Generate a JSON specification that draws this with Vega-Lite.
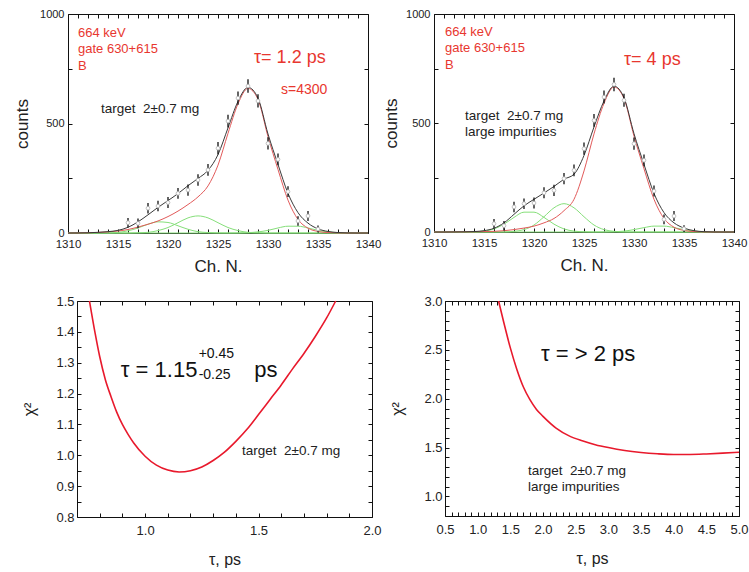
{
  "$schema": "https://vega.github.io/schema/vega-lite/v6.json",
  "background": "white",
  "padding": {"left": 10, "top": 7, "right": 0, "bottom": 0},
  "datasets": {
    "blank": [{}],
    "fit1": [
      {"ch": 1310, "g1": 0, "g2": 0, "g3": 0, "red": 0, "tot": 0},
      {"ch": 1311, "g1": 0, "g2": 0, "g3": 0, "red": 0.2, "tot": 0.3},
      {"ch": 1312, "g1": 0, "g2": 0, "g3": 0, "red": 1, "tot": 1},
      {"ch": 1313, "g1": 0.2, "g2": 0, "g3": 0, "red": 2.5, "tot": 3},
      {"ch": 1314, "g1": 0.7, "g2": 0, "g3": 0, "red": 5, "tot": 6},
      {"ch": 1315, "g1": 3, "g2": 0, "g3": 0, "red": 9, "tot": 12},
      {"ch": 1316, "g1": 10, "g2": 0, "g3": 0, "red": 16, "tot": 26},
      {"ch": 1317, "g1": 23, "g2": 1, "g3": 0, "red": 27, "tot": 51},
      {"ch": 1318, "g1": 40, "g2": 3, "g3": 0, "red": 40, "tot": 83},
      {"ch": 1319, "g1": 51, "g2": 11, "g3": 0, "red": 55, "tot": 117},
      {"ch": 1320, "g1": 48, "g2": 25, "g3": 0, "red": 75, "tot": 148},
      {"ch": 1321, "g1": 33, "g2": 47, "g3": 0, "red": 100, "tot": 180},
      {"ch": 1322, "g1": 17, "g2": 69, "g3": 0, "red": 130, "tot": 216},
      {"ch": 1323, "g1": 6, "g2": 78, "g3": 0, "red": 165, "tot": 249},
      {"ch": 1324, "g1": 2, "g2": 69, "g3": 0, "red": 215, "tot": 286},
      {"ch": 1325, "g1": 0.5, "g2": 47, "g3": 0, "red": 310, "tot": 358},
      {"ch": 1326, "g1": 0, "g2": 25, "g3": 0, "red": 455, "tot": 480},
      {"ch": 1327, "g1": 0, "g2": 11, "g3": 0.3, "red": 590, "tot": 601},
      {"ch": 1328, "g1": 0, "g2": 3, "g3": 1.5, "red": 660, "tot": 665},
      {"ch": 1329, "g1": 0, "g2": 1, "g3": 5, "red": 610, "tot": 616},
      {"ch": 1330, "g1": 0, "g2": 0, "g3": 12, "red": 440, "tot": 452},
      {"ch": 1331, "g1": 0, "g2": 0, "g3": 23, "red": 290, "tot": 313},
      {"ch": 1332, "g1": 0, "g2": 0, "g3": 31, "red": 150, "tot": 181},
      {"ch": 1333, "g1": 0, "g2": 0, "g3": 31, "red": 62, "tot": 93},
      {"ch": 1334, "g1": 0, "g2": 0, "g3": 23, "red": 22, "tot": 45},
      {"ch": 1335, "g1": 0, "g2": 0, "g3": 12, "red": 7, "tot": 19},
      {"ch": 1336, "g1": 0, "g2": 0, "g3": 5, "red": 2, "tot": 7},
      {"ch": 1337, "g1": 0, "g2": 0, "g3": 1.5, "red": 0.5, "tot": 2},
      {"ch": 1338, "g1": 0, "g2": 0, "g3": 0.3, "red": 0, "tot": 0.3},
      {"ch": 1339, "g1": 0, "g2": 0, "g3": 0, "red": 0, "tot": 0},
      {"ch": 1340, "g1": 0, "g2": 0, "g3": 0, "red": 0, "tot": 0}
    ],
    "fit2": [
      {"ch": 1310, "g1": 0, "g2": 0, "g3": 0, "red": 0, "tot": 0},
      {"ch": 1311, "g1": 0, "g2": 0, "g3": 0, "red": 0, "tot": 0},
      {"ch": 1312, "g1": 0, "g2": 0, "g3": 0, "red": 0.3, "tot": 0.3},
      {"ch": 1313, "g1": 0.2, "g2": 0, "g3": 0, "red": 0.6, "tot": 0.8},
      {"ch": 1314, "g1": 1, "g2": 0, "g3": 0, "red": 1, "tot": 2},
      {"ch": 1315, "g1": 4, "g2": 0, "g3": 0, "red": 2, "tot": 6},
      {"ch": 1316, "g1": 14, "g2": 0, "g3": 0, "red": 3, "tot": 17},
      {"ch": 1317, "g1": 36, "g2": 0.4, "g3": 0, "red": 6, "tot": 42},
      {"ch": 1318, "g1": 67, "g2": 3, "g3": 0, "red": 11, "tot": 81},
      {"ch": 1319, "g1": 91, "g2": 11, "g3": 0, "red": 18, "tot": 120},
      {"ch": 1320, "g1": 91, "g2": 32, "g3": 0, "red": 27, "tot": 150},
      {"ch": 1321, "g1": 67, "g2": 70, "g3": 0, "red": 42, "tot": 179},
      {"ch": 1322, "g1": 36, "g2": 111, "g3": 0, "red": 62, "tot": 209},
      {"ch": 1323, "g1": 14, "g2": 130, "g3": 0, "red": 98, "tot": 242},
      {"ch": 1324, "g1": 4, "g2": 111, "g3": 0, "red": 150, "tot": 265},
      {"ch": 1325, "g1": 1, "g2": 70, "g3": 0, "red": 280, "tot": 351},
      {"ch": 1326, "g1": 0, "g2": 32, "g3": 0, "red": 450, "tot": 482},
      {"ch": 1327, "g1": 0, "g2": 11, "g3": 0.3, "red": 590, "tot": 601},
      {"ch": 1328, "g1": 0, "g2": 3, "g3": 1.4, "red": 665, "tot": 669},
      {"ch": 1329, "g1": 0, "g2": 0.4, "g3": 4, "red": 612, "tot": 616},
      {"ch": 1330, "g1": 0, "g2": 0, "g3": 11, "red": 440, "tot": 451},
      {"ch": 1331, "g1": 0, "g2": 0, "g3": 20, "red": 290, "tot": 310},
      {"ch": 1332, "g1": 0, "g2": 0, "g3": 27, "red": 150, "tot": 177},
      {"ch": 1333, "g1": 0, "g2": 0, "g3": 27, "red": 62, "tot": 89},
      {"ch": 1334, "g1": 0, "g2": 0, "g3": 20, "red": 22, "tot": 42},
      {"ch": 1335, "g1": 0, "g2": 0, "g3": 11, "red": 7, "tot": 18},
      {"ch": 1336, "g1": 0, "g2": 0, "g3": 4, "red": 2, "tot": 6},
      {"ch": 1337, "g1": 0, "g2": 0, "g3": 1, "red": 0.5, "tot": 1.5},
      {"ch": 1338, "g1": 0, "g2": 0, "g3": 0.2, "red": 0, "tot": 0.2},
      {"ch": 1339, "g1": 0, "g2": 0, "g3": 0, "red": 0, "tot": 0},
      {"ch": 1340, "g1": 0, "g2": 0, "g3": 0, "red": 0, "tot": 0}
    ],
    "pts1": [
      {"ch": 1316, "cnt": 47, "lo": 25, "hi": 69},
      {"ch": 1317, "cnt": 44, "lo": 22, "hi": 66},
      {"ch": 1318, "cnt": 113, "lo": 89, "hi": 137},
      {"ch": 1319, "cnt": 123, "lo": 99, "hi": 147},
      {"ch": 1320, "cnt": 139, "lo": 114, "hi": 164},
      {"ch": 1321, "cnt": 181, "lo": 156, "hi": 206},
      {"ch": 1322, "cnt": 196, "lo": 170, "hi": 222},
      {"ch": 1323, "cnt": 242, "lo": 216, "hi": 268},
      {"ch": 1324, "cnt": 288, "lo": 261, "hi": 315},
      {"ch": 1325, "cnt": 387, "lo": 359, "hi": 415},
      {"ch": 1326, "cnt": 511, "lo": 482, "hi": 540},
      {"ch": 1327, "cnt": 616, "lo": 586, "hi": 646},
      {"ch": 1328, "cnt": 671, "lo": 640, "hi": 702},
      {"ch": 1329, "cnt": 603, "lo": 573, "hi": 633},
      {"ch": 1330, "cnt": 409, "lo": 381, "hi": 437},
      {"ch": 1331, "cnt": 336, "lo": 309, "hi": 363},
      {"ch": 1332, "cnt": 189, "lo": 164, "hi": 214},
      {"ch": 1333, "cnt": 55, "lo": 33, "hi": 77},
      {"ch": 1334, "cnt": 78, "lo": 55, "hi": 101},
      {"ch": 1335, "cnt": 18, "lo": 2, "hi": 34}
    ],
    "pts2": [
      {"ch": 1316, "cnt": 38, "lo": 16, "hi": 60},
      {"ch": 1317, "cnt": 29, "lo": 7, "hi": 51},
      {"ch": 1318, "cnt": 115, "lo": 91, "hi": 139},
      {"ch": 1319, "cnt": 130, "lo": 106, "hi": 154},
      {"ch": 1320, "cnt": 133, "lo": 108, "hi": 158},
      {"ch": 1321, "cnt": 180, "lo": 155, "hi": 205},
      {"ch": 1322, "cnt": 191, "lo": 165, "hi": 217},
      {"ch": 1323, "cnt": 245, "lo": 219, "hi": 271},
      {"ch": 1324, "cnt": 283, "lo": 256, "hi": 310},
      {"ch": 1325, "cnt": 382, "lo": 354, "hi": 410},
      {"ch": 1326, "cnt": 512, "lo": 483, "hi": 541},
      {"ch": 1327, "cnt": 619, "lo": 589, "hi": 649},
      {"ch": 1328, "cnt": 677, "lo": 646, "hi": 708},
      {"ch": 1329, "cnt": 604, "lo": 574, "hi": 634},
      {"ch": 1330, "cnt": 405, "lo": 377, "hi": 433},
      {"ch": 1331, "cnt": 329, "lo": 302, "hi": 356},
      {"ch": 1332, "cnt": 188, "lo": 163, "hi": 213},
      {"ch": 1333, "cnt": 58, "lo": 36, "hi": 80},
      {"ch": 1334, "cnt": 73, "lo": 50, "hi": 96},
      {"ch": 1335, "cnt": 15, "lo": 0, "hi": 31}
    ],
    "chi1": [
      {"tau": 0.755, "chi": 1.5},
      {"tau": 0.78, "chi": 1.395},
      {"tau": 0.8, "chi": 1.32},
      {"tau": 0.825, "chi": 1.245},
      {"tau": 0.85, "chi": 1.19},
      {"tau": 0.875, "chi": 1.14},
      {"tau": 0.9, "chi": 1.1},
      {"tau": 0.925, "chi": 1.068},
      {"tau": 0.95, "chi": 1.04},
      {"tau": 1.0, "chi": 0.997},
      {"tau": 1.05, "chi": 0.968},
      {"tau": 1.1, "chi": 0.952},
      {"tau": 1.15, "chi": 0.946},
      {"tau": 1.2, "chi": 0.95},
      {"tau": 1.25, "chi": 0.962},
      {"tau": 1.3, "chi": 0.983},
      {"tau": 1.35, "chi": 1.01},
      {"tau": 1.4, "chi": 1.045},
      {"tau": 1.45, "chi": 1.085},
      {"tau": 1.5, "chi": 1.132},
      {"tau": 1.55, "chi": 1.18},
      {"tau": 1.6, "chi": 1.228},
      {"tau": 1.65, "chi": 1.28},
      {"tau": 1.7, "chi": 1.33},
      {"tau": 1.75, "chi": 1.385},
      {"tau": 1.8, "chi": 1.445},
      {"tau": 1.84, "chi": 1.5}
    ],
    "chi2": [
      {"tau": 1.32, "chi": 3.0},
      {"tau": 1.4, "chi": 2.78},
      {"tau": 1.5, "chi": 2.52},
      {"tau": 1.6, "chi": 2.3},
      {"tau": 1.7, "chi": 2.12},
      {"tau": 1.8, "chi": 1.99},
      {"tau": 1.9, "chi": 1.89},
      {"tau": 2.0, "chi": 1.82},
      {"tau": 2.2, "chi": 1.7},
      {"tau": 2.4, "chi": 1.62},
      {"tau": 2.6, "chi": 1.57},
      {"tau": 2.8, "chi": 1.53},
      {"tau": 3.0, "chi": 1.5},
      {"tau": 3.25, "chi": 1.47},
      {"tau": 3.5, "chi": 1.45},
      {"tau": 3.75, "chi": 1.437},
      {"tau": 4.0, "chi": 1.43},
      {"tau": 4.25, "chi": 1.43},
      {"tau": 4.5, "chi": 1.435},
      {"tau": 4.75, "chi": 1.443},
      {"tau": 5.0, "chi": 1.452}
    ]
  },
  "spacing": 19,
  "vconcat": [
    {
      "spacing": 0,
      "hconcat": [
        {
          "width": 3, "height": 219,
          "view": {"stroke": null},
          "data": {"name": "blank"},
          "mark": {"type": "text"},
          "encoding": {"text": {"value": ""}}
        },
        {
          "width": 300, "height": 219,
          "data": {"name": "blank"},
          "resolve": {"axis": {"x": "independent", "y": "independent"}},
          "layer": [
            {
              "data": {"name": "fit1"},
              "transform": [{"fold": ["g1", "g2", "g3", "red", "tot"], "as": ["comp", "val"]}],
              "mark": {"type": "line", "interpolate": "monotone", "strokeWidth": 1},
              "encoding": {
                "x": {"field": "ch", "type": "quantitative", "scale": {"domain": [1310, 1340], "nice": false, "zero": false},
                  "axis": {"orient": "bottom", "values": [1310, 1315, 1320, 1325, 1330, 1335, 1340], "format": "d", "ticks": false, "labelFontSize": 11.5, "labelPadding": 5, "title": "Ch. N.", "titleFontSize": 17, "titlePadding": 9}},
                "y": {"field": "val", "type": "quantitative", "scale": {"domain": [0, 1000], "nice": false, "zero": false},
                  "axis": {"orient": "left", "values": [0, 500, 1000], "format": "d", "ticks": false, "labelFontSize": 11, "labelPadding": 4, "title": "counts", "titleFontSize": 17, "titlePadding": 8}},
                "color": {"field": "comp", "type": "nominal", "scale": {"domain": ["g1", "g2", "g3", "red", "tot"], "range": ["#86df7a", "#86df7a", "#86df7a", "#e25a5a", "#3a3a3a"]}, "legend": null}
              }
            },
            {
              "data": {"name": "pts1"},
              "mark": {"type": "rule", "color": "#111", "strokeWidth": 1.3},
              "encoding": {
                "x": {"field": "ch", "type": "quantitative", "axis": {"orient": "bottom", "values": [1310,1311,1312,1313,1314,1315,1316,1317,1318,1319,1320,1321,1322,1323,1324,1325,1326,1327,1328,1329,1330,1331,1332,1333,1334,1335,1336,1337,1338,1339,1340], "labels": false, "tickSize": -4, "title": null}},
                "y": {"field": "lo", "type": "quantitative", "axis": {"orient": "left", "values": [0, 250, 500, 750, 1000], "labels": false, "tickSize": -4, "title": null}},
                "y2": {"field": "hi"}
              }
            },
            {
              "data": {"name": "pts1"},
              "mark": {"type": "point", "shape": "circle", "filled": true, "fill": "white", "stroke": "#b0b0b0", "strokeWidth": 0.8, "size": 14, "opacity": 1},
              "encoding": {
                "x": {"field": "ch", "type": "quantitative", "axis": {"orient": "top", "values": [1310,1311,1312,1313,1314,1315,1316,1317,1318,1319,1320,1321,1322,1323,1324,1325,1326,1327,1328,1329,1330,1331,1332,1333,1334,1335,1336,1337,1338,1339,1340], "labels": false, "tickSize": -4, "title": null}},
                "y": {"field": "cnt", "type": "quantitative", "axis": {"orient": "right", "values": [0, 250, 500, 750, 1000], "labels": false, "tickSize": -4, "title": null}}
              }
            },
            {
              "mark": {"type": "text", "align": "left", "baseline": "top", "fontSize": 13, "lineHeight": 16.5, "color": "#e8372f"},
              "encoding": {"x": {"datum": 1311, "type": "quantitative", "axis": null}, "y": {"datum": 941, "type": "quantitative", "axis": null}, "text": {"value": ["664 keV", "gate 630+615", "B"]}}
            },
            {
              "mark": {"type": "text", "align": "left", "baseline": "top", "fontSize": 18, "color": "#e8372f"},
              "encoding": {"x": {"datum": 1328.6, "type": "quantitative", "axis": null}, "y": {"datum": 840, "type": "quantitative", "axis": null}, "text": {"value": "τ= 1.2 ps"}}
            },
            {
              "mark": {"type": "text", "align": "left", "baseline": "top", "fontSize": 14, "color": "#e8372f"},
              "encoding": {"x": {"datum": 1331.3, "type": "quantitative", "axis": null}, "y": {"datum": 685, "type": "quantitative", "axis": null}, "text": {"value": "s=4300"}}
            },
            {
              "mark": {"type": "text", "align": "left", "baseline": "top", "fontSize": 13.5, "color": "#222"},
              "encoding": {"x": {"datum": 1313.3, "type": "quantitative", "axis": null}, "y": {"datum": 598, "type": "quantitative", "axis": null}, "text": {"value": "target\u00a0 2±0.7 mg"}}
            }
          ]
        },
        {
          "width": 300, "height": 218,
          "data": {"name": "blank"},
          "resolve": {"axis": {"x": "independent", "y": "independent"}},
          "layer": [
            {
              "data": {"name": "fit2"},
              "transform": [{"fold": ["g1", "g2", "g3", "red", "tot"], "as": ["comp", "val"]}],
              "mark": {"type": "line", "interpolate": "monotone", "strokeWidth": 1},
              "encoding": {
                "x": {"field": "ch", "type": "quantitative", "scale": {"domain": [1310, 1340], "nice": false, "zero": false},
                  "axis": {"orient": "bottom", "values": [1310, 1315, 1320, 1325, 1330, 1335, 1340], "format": "d", "ticks": false, "labelFontSize": 11.5, "labelPadding": 5, "title": "Ch. N.", "titleFontSize": 17, "titlePadding": 9}},
                "y": {"field": "val", "type": "quantitative", "scale": {"domain": [0, 1000], "nice": false, "zero": false},
                  "axis": {"orient": "left", "values": [0, 500, 1000], "format": "d", "ticks": false, "labelFontSize": 11, "labelPadding": 4, "title": "counts", "titleFontSize": 17, "titlePadding": 5}},
                "color": {"field": "comp", "type": "nominal", "scale": {"domain": ["g1", "g2", "g3", "red", "tot"], "range": ["#86df7a", "#86df7a", "#86df7a", "#e25a5a", "#3a3a3a"]}, "legend": null}
              }
            },
            {
              "data": {"name": "pts2"},
              "mark": {"type": "rule", "color": "#111", "strokeWidth": 1.3},
              "encoding": {
                "x": {"field": "ch", "type": "quantitative", "axis": {"orient": "bottom", "values": [1310,1311,1312,1313,1314,1315,1316,1317,1318,1319,1320,1321,1322,1323,1324,1325,1326,1327,1328,1329,1330,1331,1332,1333,1334,1335,1336,1337,1338,1339,1340], "labels": false, "tickSize": -4, "title": null}},
                "y": {"field": "lo", "type": "quantitative", "axis": {"orient": "left", "values": [0, 250, 500, 750, 1000], "labels": false, "tickSize": -4, "title": null}},
                "y2": {"field": "hi"}
              }
            },
            {
              "data": {"name": "pts2"},
              "mark": {"type": "point", "shape": "circle", "filled": true, "fill": "white", "stroke": "#b0b0b0", "strokeWidth": 0.8, "size": 14, "opacity": 1},
              "encoding": {
                "x": {"field": "ch", "type": "quantitative", "axis": {"orient": "top", "values": [1310,1311,1312,1313,1314,1315,1316,1317,1318,1319,1320,1321,1322,1323,1324,1325,1326,1327,1328,1329,1330,1331,1332,1333,1334,1335,1336,1337,1338,1339,1340], "labels": false, "tickSize": -4, "title": null}},
                "y": {"field": "cnt", "type": "quantitative", "axis": {"orient": "right", "values": [0, 250, 500, 750, 1000], "labels": false, "tickSize": -4, "title": null}}
              }
            },
            {
              "mark": {"type": "text", "align": "left", "baseline": "top", "fontSize": 13, "lineHeight": 16.5, "color": "#e8372f"},
              "encoding": {"x": {"datum": 1311.1, "type": "quantitative", "axis": null}, "y": {"datum": 945, "type": "quantitative", "axis": null}, "text": {"value": ["664 keV", "gate 630+615", "B"]}}
            },
            {
              "mark": {"type": "text", "align": "left", "baseline": "top", "fontSize": 18, "color": "#e8372f"},
              "encoding": {"x": {"datum": 1329.0, "type": "quantitative", "axis": null}, "y": {"datum": 830, "type": "quantitative", "axis": null}, "text": {"value": "τ= 4 ps"}}
            },
            {
              "mark": {"type": "text", "align": "left", "baseline": "top", "fontSize": 13.5, "lineHeight": 16, "color": "#222"},
              "encoding": {"x": {"datum": 1313.1, "type": "quantitative", "axis": null}, "y": {"datum": 564, "type": "quantitative", "axis": null}, "text": {"value": ["target\u00a0 2±0.7 mg", "large impurities"]}}
            }
          ]
        }
      ]
    },
    {
      "spacing": 7,
      "hconcat": [
        {
          "width": 4, "height": 216,
          "view": {"stroke": null},
          "data": {"name": "blank"},
          "mark": {"type": "text"},
          "encoding": {"text": {"value": ""}}
        },
        {
          "width": 295, "height": 216,
          "data": {"name": "blank"},
          "resolve": {"axis": {"x": "independent", "y": "independent"}},
          "layer": [
            {
              "data": {"name": "chi1"},
              "mark": {"type": "line", "interpolate": "monotone", "strokeWidth": 1.6, "color": "#e8192c"},
              "encoding": {
                "x": {"field": "tau", "type": "quantitative", "scale": {"domain": [0.7, 2.0], "nice": false, "zero": false},
                  "axis": {"orient": "bottom", "values": [1.0, 1.5, 2.0], "format": ".1f", "ticks": false, "labelFontSize": 13, "labelPadding": 7, "title": "τ, ps", "titleFontSize": 16, "titlePadding": 14}},
                "y": {"field": "chi", "type": "quantitative", "scale": {"domain": [0.8, 1.5], "nice": false, "zero": false},
                  "axis": {"orient": "left", "values": [0.8, 0.9, 1.0, 1.1, 1.2, 1.3, 1.4, 1.5], "format": ".1f", "ticks": false, "labelFontSize": 13, "labelPadding": 3, "title": "χ²", "titleFontSize": 16, "titlePadding": 18}}
              }
            },
            {
              "mark": {"type": "text", "align": "left", "baseline": "middle", "fontSize": 22, "color": "#111"},
              "encoding": {
                "x": {"datum": 0.893, "type": "quantitative", "axis": {"orient": "bottom", "values": [0.7, 0.8, 0.9, 1.0, 1.1, 1.2, 1.3, 1.4, 1.5, 1.6, 1.7, 1.8, 1.9, 2.0], "labels": false, "tickSize": -4, "title": null}},
                "y": {"datum": 1.276, "type": "quantitative", "axis": {"orient": "left", "values": [0.8, 0.85, 0.9, 0.95, 1.0, 1.05, 1.1, 1.15, 1.2, 1.25, 1.3, 1.35, 1.4, 1.45, 1.5], "labels": false, "tickSize": -4, "title": null}},
                "text": {"value": "τ = 1.15"}
              }
            },
            {
              "mark": {"type": "text", "align": "left", "baseline": "middle", "fontSize": 14, "color": "#111"},
              "encoding": {
                "x": {"datum": 1.236, "type": "quantitative", "axis": {"orient": "top", "values": [0.7, 0.8, 0.9, 1.0, 1.1, 1.2, 1.3, 1.4, 1.5, 1.6, 1.7, 1.8, 1.9, 2.0], "labels": false, "tickSize": -4, "title": null}},
                "y": {"datum": 1.328, "type": "quantitative", "axis": {"orient": "right", "values": [0.8, 0.85, 0.9, 0.95, 1.0, 1.05, 1.1, 1.15, 1.2, 1.25, 1.3, 1.35, 1.4, 1.45, 1.5], "labels": false, "tickSize": -4, "title": null}},
                "text": {"value": "+0.45"}
              }
            },
            {
              "mark": {"type": "text", "align": "left", "baseline": "middle", "fontSize": 14, "color": "#111"},
              "encoding": {"x": {"datum": 1.236, "type": "quantitative", "axis": null}, "y": {"datum": 1.26, "type": "quantitative", "axis": null}, "text": {"value": "-0.25"}}
            },
            {
              "mark": {"type": "text", "align": "left", "baseline": "middle", "fontSize": 22, "color": "#111"},
              "encoding": {"x": {"datum": 1.481, "type": "quantitative", "axis": null}, "y": {"datum": 1.276, "type": "quantitative", "axis": null}, "text": {"value": "ps"}}
            },
            {
              "mark": {"type": "text", "align": "left", "baseline": "middle", "fontSize": 13.5, "color": "#222"},
              "encoding": {"x": {"datum": 1.427, "type": "quantitative", "axis": null}, "y": {"datum": 1.014, "type": "quantitative", "axis": null}, "text": {"value": "target\u00a0 2±0.7 mg"}}
            }
          ]
        },
        {
          "width": 294, "height": 215,
          "data": {"name": "blank"},
          "resolve": {"axis": {"x": "independent", "y": "independent"}},
          "layer": [
            {
              "data": {"name": "chi2"},
              "mark": {"type": "line", "interpolate": "monotone", "strokeWidth": 1.6, "color": "#e8192c"},
              "encoding": {
                "x": {"field": "tau", "type": "quantitative", "scale": {"domain": [0.5, 5.0], "nice": false, "zero": false},
                  "axis": {"orient": "bottom", "values": [0.5, 1.0, 1.5, 2.0, 2.5, 3.0, 3.5, 4.0, 4.5, 5.0], "format": ".1f", "ticks": false, "labelFontSize": 13, "labelPadding": 7, "title": "τ, ps", "titleFontSize": 16, "titlePadding": 14}},
                "y": {"field": "chi", "type": "quantitative", "scale": {"domain": [0.8, 3.0], "nice": false, "zero": false},
                  "axis": {"orient": "left", "values": [1.0, 1.5, 2.0, 2.5, 3.0], "format": ".1f", "ticks": false, "labelFontSize": 13, "labelPadding": 3, "title": "χ²", "titleFontSize": 16, "titlePadding": 18}}
              }
            },
            {
              "mark": {"type": "text", "align": "left", "baseline": "middle", "fontSize": 22, "color": "#111"},
              "encoding": {
                "x": {"datum": 1.968, "type": "quantitative", "axis": {"orient": "bottom", "values": [0.5,0.6,0.7,0.8,0.9,1.0,1.1,1.2,1.3,1.4,1.5,1.6,1.7,1.8,1.9,2.0,2.1,2.2,2.3,2.4,2.5,2.6,2.7,2.8,2.9,3.0,3.1,3.2,3.3,3.4,3.5,3.6,3.7,3.8,3.9,4.0,4.1,4.2,4.3,4.4,4.5,4.6,4.7,4.8,4.9,5.0], "labels": false, "tickSize": -4, "title": null}},
                "y": {"datum": 2.459, "type": "quantitative", "axis": {"orient": "left", "values": [0.8,0.9,1.0,1.1,1.2,1.3,1.4,1.5,1.6,1.7,1.8,1.9,2.0,2.1,2.2,2.3,2.4,2.5,2.6,2.7,2.8,2.9,3.0], "labels": false, "tickSize": -4, "title": null}},
                "text": {"value": "τ = > 2 ps"}
              }
            },
            {
              "mark": {"type": "text", "align": "left", "baseline": "top", "fontSize": 13.5, "lineHeight": 16, "color": "#222"},
              "encoding": {
                "x": {"datum": 1.769, "type": "quantitative", "axis": {"orient": "top", "values": [0.5,0.6,0.7,0.8,0.9,1.0,1.1,1.2,1.3,1.4,1.5,1.6,1.7,1.8,1.9,2.0,2.1,2.2,2.3,2.4,2.5,2.6,2.7,2.8,2.9,3.0,3.1,3.2,3.3,3.4,3.5,3.6,3.7,3.8,3.9,4.0,4.1,4.2,4.3,4.4,4.5,4.6,4.7,4.8,4.9,5.0], "labels": false, "tickSize": -4, "title": null}},
                "y": {"datum": 1.337, "type": "quantitative", "axis": {"orient": "right", "values": [0.8,0.9,1.0,1.1,1.2,1.3,1.4,1.5,1.6,1.7,1.8,1.9,2.0,2.1,2.2,2.3,2.4,2.5,2.6,2.7,2.8,2.9,3.0], "labels": false, "tickSize": -4, "title": null}},
                "text": {"value": ["target\u00a0 2±0.7 mg", "large impurities"]}
              }
            }
          ]
        }
      ]
    }
  ],
  "config": {
    "view": {"stroke": "#111", "strokeWidth": 1},
    "axis": {"grid": false, "domain": false, "tickColor": "#111", "tickWidth": 1, "labelColor": "#222", "titleColor": "#222", "labelFont": "Liberation Sans", "titleFont": "Liberation Sans", "titleFontWeight": "normal", "labelFlush": false, "labelOverlap": false, "labelBound": false},
    "text": {"font": "Liberation Sans"}
  }
}
